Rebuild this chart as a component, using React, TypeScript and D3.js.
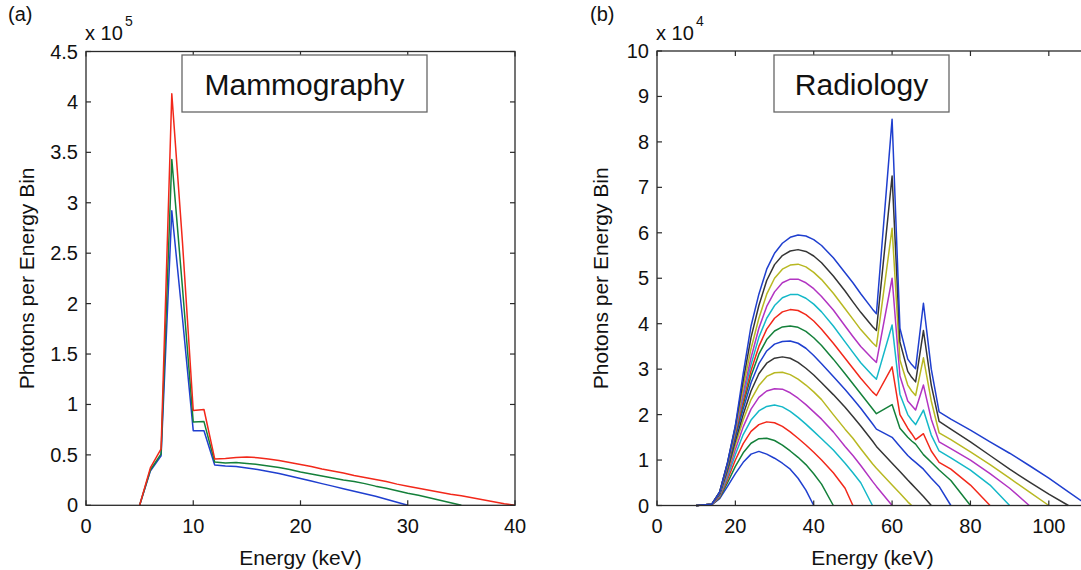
import React from 'react';
import * as d3 from 'd3';

// ---------- Panel (a): Mammography (values in units of 1e5 photons) ----------
const mammoEnergy = [5, 6, 7, 8, 9, 10, 11, 12, 13, 14, 15, 16, 17, 18, 19, 20, 21, 22, 23, 24, 25, 26, 27, 28, 29, 30, 31, 32, 33, 34, 35, 36, 37, 38, 39, 40];
const mammo30kVp = [0, 0.34, 0.49, 2.92, 1.85, 0.74, 0.74, 0.4, 0.39, 0.385, 0.37, 0.355, 0.335, 0.315, 0.29, 0.265, 0.24, 0.215, 0.19, 0.165, 0.14, 0.115, 0.09, 0.06, 0.03, 0];
const mammo35kVp = [0, 0.35, 0.51, 3.43, 2.15, 0.825, 0.83, 0.43, 0.42, 0.425, 0.415, 0.405, 0.39, 0.375, 0.355, 0.33, 0.31, 0.29, 0.27, 0.25, 0.235, 0.215, 0.19, 0.17, 0.145, 0.12, 0.1, 0.075, 0.05, 0.025, 0];
const mammo40kVp = [0, 0.37, 0.56, 4.08, 2.6, 0.94, 0.95, 0.46, 0.465, 0.475, 0.478, 0.472, 0.46, 0.445, 0.425, 0.405, 0.385, 0.36, 0.34, 0.32, 0.295, 0.275, 0.255, 0.235, 0.21, 0.19, 0.17, 0.15, 0.13, 0.11, 0.095, 0.075, 0.055, 0.035, 0.015, 0];
const mammoXTicks = [0, 10, 20, 30, 40];
const mammoYTicks = [0, 0.5, 1, 1.5, 2, 2.5, 3, 3.5, 4, 4.5];

// ---------- Panel (b): Radiology (values in units of 1e4 photons) ----------
const radEnergy = [10, 14, 16, 18, 20, 22, 24, 26, 28, 30, 32, 34, 36, 38, 40, 42, 45, 48, 50, 52, 55, 56, 60, 62, 64, 65, 66, 68, 70, 72, 75, 80, 85, 90, 95, 100, 105, 110];
const rad40kVp = [0, 0.02, 0.15, 0.42, 0.7, 0.95, 1.13, 1.19, 1.13, 1.04, 0.93, 0.8, 0.6, 0.34, 0];
const rad45kVp = [0, 0.02, 0.17, 0.5, 0.86, 1.16, 1.37, 1.47, 1.48, 1.43, 1.33, 1.2, 1.06, 0.9, 0.7, 0.47, 0];
const rad50kVp = [0, 0.02, 0.19, 0.57, 1.0, 1.36, 1.63, 1.78, 1.84, 1.82, 1.74, 1.62, 1.48, 1.33, 1.17, 1.0, 0.72, 0.38, 0];
const rad55kVp = [0, 0.03, 0.21, 0.63, 1.12, 1.56, 1.88, 2.08, 2.18, 2.21, 2.17, 2.07, 1.94, 1.79, 1.63, 1.47, 1.22, 0.93, 0.72, 0.5, 0];
const rad60kVp = [0, 0.03, 0.23, 0.69, 1.23, 1.73, 2.12, 2.38, 2.52, 2.57, 2.56, 2.48, 2.36, 2.22, 2.06, 1.9, 1.62, 1.3, 1.1, 0.88, 0.53, 0.42, 0];
const rad65kVp = [0, 0.03, 0.24, 0.74, 1.33, 1.88, 2.33, 2.64, 2.84, 2.92, 2.93, 2.88, 2.78, 2.65, 2.5, 2.33, 2.0, 1.68, 1.48, 1.25, 0.92, 0.82, 0.45, 0.27, 0.08, 0];
const rad70kVp = [0, 0.03, 0.25, 0.78, 1.42, 2.0, 2.52, 2.9, 3.13, 3.24, 3.27, 3.24, 3.15, 3.02, 2.87, 2.7, 2.44, 2.16, 1.96, 1.75, 1.42, 1.3, 0.93, 0.75, 0.56, 0.47, 0.38, 0.2, 0];
const rad75kVp = [0, 0.03, 0.26, 0.82, 1.5, 2.12, 2.7, 3.12, 3.4, 3.55, 3.61, 3.62, 3.57, 3.46, 3.3, 3.12, 2.84, 2.55, 2.35, 2.14, 1.8, 1.68, 1.5, 1.3, 1.1, 1.02, 0.95, 0.8, 0.6, 0.42, 0];
const rad80kVp = [0, 0.03, 0.27, 0.85, 1.56, 2.22, 2.85, 3.33, 3.65, 3.84, 3.93, 3.95, 3.92, 3.83, 3.69, 3.52, 3.22, 2.9, 2.68, 2.46, 2.13, 2.02, 2.22, 1.7, 1.5, 1.42, 1.35, 1.12, 0.95, 0.78, 0.55, 0];
const rad85kVp = [0, 0.03, 0.28, 0.88, 1.6, 2.3, 2.97, 3.5, 3.88, 4.12, 4.26, 4.31, 4.29, 4.2, 4.06, 3.88, 3.57, 3.24, 3.02, 2.8, 2.5, 2.42, 3.05, 2.0, 1.7, 1.58, 1.45, 1.58, 1.2, 0.95, 0.8, 0.45, 0];
const rad90kVp = [0, 0.03, 0.29, 0.9, 1.65, 2.4, 3.1, 3.7, 4.12, 4.4, 4.57, 4.64, 4.64, 4.56, 4.43, 4.26, 3.95, 3.6, 3.37, 3.14, 2.86, 2.78, 3.97, 2.45, 2.0, 1.88, 1.78, 2.1, 1.55, 1.2, 1.05, 0.78, 0.45, 0];
const rad95kVp = [0, 0.03, 0.29, 0.92, 1.68, 2.48, 3.25, 3.9, 4.38, 4.7, 4.9, 4.98, 4.98, 4.9, 4.77, 4.6, 4.3, 3.95, 3.72, 3.5, 3.23, 3.15, 5.0, 2.85, 2.3, 2.2, 2.1, 2.65, 1.9, 1.4, 1.25, 1.0, 0.7, 0.38, 0];
const rad100kVp = [0, 0.03, 0.3, 0.93, 1.72, 2.6, 3.45, 4.12, 4.65, 5.0, 5.2, 5.29, 5.31, 5.25, 5.13, 4.97, 4.67, 4.33, 4.1, 3.87, 3.58, 3.5, 6.1, 3.2, 2.65, 2.52, 2.42, 3.25, 2.3, 1.6, 1.45, 1.18, 0.9, 0.6, 0.3, 0];
const rad105kVp = [0, 0.03, 0.3, 0.94, 1.74, 2.75, 3.7, 4.4, 4.95, 5.3, 5.5, 5.6, 5.63, 5.59, 5.49, 5.34, 5.05, 4.72, 4.48, 4.25, 3.94, 3.85, 7.25, 3.6, 2.95, 2.82, 2.72, 3.85, 2.65, 1.85, 1.68, 1.4, 1.1, 0.8, 0.52, 0.25, 0];
const rad110kVp = [0, 0.03, 0.3, 0.95, 1.76, 2.9, 3.95, 4.65, 5.2, 5.55, 5.77, 5.9, 5.95, 5.93, 5.85, 5.72, 5.45, 5.12, 4.9, 4.66, 4.32, 4.22, 8.5, 3.9, 3.22, 3.1, 3.01, 4.45, 3.0, 2.06, 1.9, 1.66, 1.4, 1.15, 0.88, 0.6, 0.3, 0];
const radXTicks = [0, 20, 40, 60, 80, 100];
const radYTicks = [0, 1, 2, 3, 4, 5, 6, 7, 8, 9, 10];

// MATLAB default colour order
const BLUE = '#1f3fcf';
const GREEN = '#14803a';
const RED = '#f2281a';
const CYAN = '#14b8c8';
const MAGENTA = '#b234c2';
const YELLOW = '#b8b822';
const BLACK = '#353535';

const mammoSeries = [
  { values: mammo30kVp, color: BLUE },
  { values: mammo35kVp, color: GREEN },
  { values: mammo40kVp, color: RED },
];
const radSeries = [
  { values: rad40kVp, color: BLUE },
  { values: rad45kVp, color: GREEN },
  { values: rad50kVp, color: RED },
  { values: rad55kVp, color: CYAN },
  { values: rad60kVp, color: MAGENTA },
  { values: rad65kVp, color: YELLOW },
  { values: rad70kVp, color: BLACK },
  { values: rad75kVp, color: BLUE },
  { values: rad80kVp, color: GREEN },
  { values: rad85kVp, color: RED },
  { values: rad90kVp, color: CYAN },
  { values: rad95kVp, color: MAGENTA },
  { values: rad100kVp, color: YELLOW },
  { values: rad105kVp, color: BLACK },
  { values: rad110kVp, color: BLUE },
];

const FONT = '"Liberation Sans", Arial, Helvetica, sans-serif';
const AXIS = '#2a2a2a';

type PanelProps = {
  letter: string;
  exponent: string;
  title: string;
  energies: number[];
  series: { values: number[]; color: string }[];
  xDomain: [number, number];
  yDomain: [number, number];
  xRange: [number, number];
  yRange: [number, number];
  xTicks: number[];
  yTicks: number[];
  box: { x: number; y: number; w: number; h: number };
  letterX: number;
  yLabelX: number;
};

function Panel(p: PanelProps) {
  const x = d3.scaleLinear().domain(p.xDomain).range(p.xRange);
  const y = d3.scaleLinear().domain(p.yDomain).range(p.yRange);
  const line = d3
    .line<[number, number]>()
    .x((d) => x(d[0]))
    .y((d) => y(d[1]));
  const [x0, x1] = p.xRange;
  const [yb, yt] = p.yRange;
  const tl = 5;
  const fmt = (v: number) => String(v);
  return (
    <g fontFamily={FONT}>
      <text x={p.letterX} y={21} fontSize={20} fill="#111">{p.letter}</text>
      <text x={x0 - 1} y={40} fontSize={20} fill="#111">x 10</text>
      <text x={x0 + 39} y={26} fontSize={14} fill="#111">{p.exponent}</text>
      {/* curves */}
      {p.series.map((s, i) => {
        const pts: [number, number][] = s.values.map((v, j) => [p.energies[j], v]);
        return (
          <path key={i} d={line(pts) || ''} fill="none" stroke={s.color} strokeWidth={1.5} strokeLinejoin="round" />
        );
      })}
      {/* axes box */}
      <rect x={x0} y={yt} width={x1 - x0} height={yb - yt} fill="none" stroke={AXIS} strokeWidth={1.3} />
      {p.xTicks.map((t) => (
        <g key={'xt' + t}>
          <line x1={x(t)} x2={x(t)} y1={yb} y2={yb - tl} stroke={AXIS} strokeWidth={1.2} />
          <line x1={x(t)} x2={x(t)} y1={yt} y2={yt + tl} stroke={AXIS} strokeWidth={1.2} />
          <text x={x(t)} y={533} fontSize={20} textAnchor="middle" fill="#111">{fmt(t)}</text>
        </g>
      ))}
      {p.yTicks.map((t) => (
        <g key={'yt' + t}>
          <line x1={x0} x2={x0 + tl} y1={y(t)} y2={y(t)} stroke={AXIS} strokeWidth={1.2} />
          <line x1={x1} x2={x1 - tl} y1={y(t)} y2={y(t)} stroke={AXIS} strokeWidth={1.2} />
          <text x={x0 - 8} y={y(t) + 7} fontSize={20} textAnchor="end" fill="#111">{fmt(t)}</text>
        </g>
      ))}
      {/* title box */}
      <rect x={p.box.x} y={p.box.y} width={p.box.w} height={p.box.h} fill="#fff" stroke="#666" strokeWidth={1.3} />
      <text x={p.box.x + p.box.w / 2} y={p.box.y + 40} fontSize={30} textAnchor="middle" fill="#111">{p.title}</text>
      {/* axis labels */}
      <text x={(x0 + x1) / 2} y={565} fontSize={21} textAnchor="middle" fill="#111">Energy (keV)</text>
      <text
        transform={`translate(${p.yLabelX},${(yb + yt) / 2}) rotate(-90)`}
        fontSize={21}
        textAnchor="middle"
        fill="#111"
      >
        Photons per Energy Bin
      </text>
    </g>
  );
}

export default function App() {
  return (
    <svg
      width={1081}
      height={570}
      viewBox="0 0 1081 570"
      style={{ position: 'absolute', left: 0, top: 0, background: '#fff' }}
    >
      <rect x={0} y={0} width={1081} height={570} fill="#fff" />
      <Panel
        letter="(a)"
        exponent="5"
        title="Mammography"
        energies={mammoEnergy}
        series={mammoSeries}
        xDomain={[0, 40]}
        yDomain={[0, 4.5]}
        xRange={[86, 515]}
        yRange={[505.3, 51.5]}
        xTicks={mammoXTicks}
        yTicks={mammoYTicks}
        box={{ x: 182, y: 55, w: 245, h: 57 }}
        letterX={8}
        yLabelX={34}
      />
      <Panel
        letter="(b)"
        exponent="4"
        title="Radiology"
        energies={radEnergy}
        series={radSeries}
        xDomain={[0, 110]}
        yDomain={[0, 10]}
        xRange={[657, 1088]}
        yRange={[505.5, 51]}
        xTicks={radXTicks}
        yTicks={radYTicks}
        box={{ x: 774, y: 55, w: 175, h: 57 }}
        letterX={590}
        yLabelX={608}
      />
    </svg>
  );
}
